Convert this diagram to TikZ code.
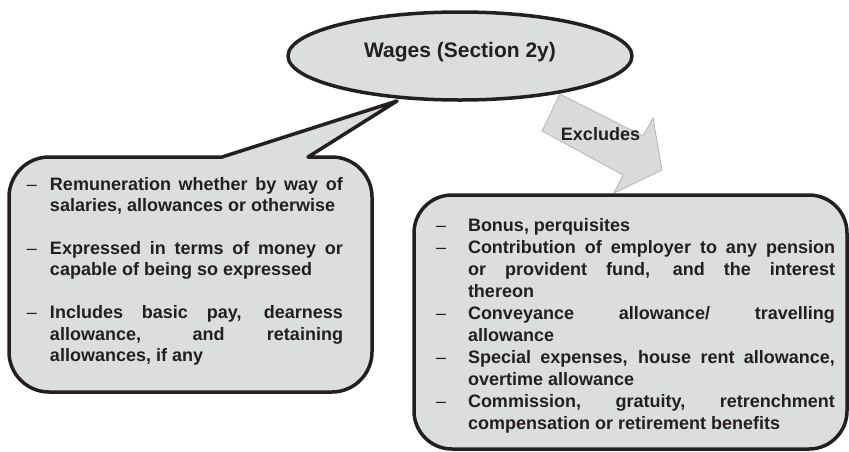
\documentclass[tikz,border=0pt]{standalone}
\usepackage{fontspec}
\setmainfont{Liberation Sans}
\usetikzlibrary{shapes.geometric}
\definecolor{boxfill}{HTML}{DCDDDF}
\definecolor{ink}{HTML}{231F20}
\definecolor{arrowfill}{HTML}{D9DADC}
\definecolor{arrowline}{HTML}{B4B5B7}
\tikzset{
  outline/.style={draw=ink, line width=3.5pt, fill=boxfill, line join=round},
  blockarrow/.style={draw=arrowline, line width=0.8pt, fill=arrowfill, line join=miter},
  bodytext/.style={inner sep=0pt, outer sep=0pt, text=ink, font=\bfseries, align=justify},
  titletext/.style={inner sep=0pt, text=ink, font={\bfseries\fontsize{21}{25}\selectfont}},
  labeltext/.style={inner sep=0pt, text=ink, font={\bfseries\fontsize{18}{22}\selectfont}}
}
\newcommand{\dashitem}[2]{\noindent\hangindent=#1\hangafter=1\makebox[#1][l]{\mdseries\char"2013}#2\par}
\hbadness=10000
\begin{document}
\begin{tikzpicture}[x=1pt,y=-1pt]
\useasboundingbox (0,0) rectangle (849,451);
% block arrow "Excludes"
\coordinate (t1) at (560,94);
\coordinate (s1) at (643,136);
\coordinate (h1) at (653,118);
\coordinate (tip) at (662,170);
\coordinate (h2) at (614,193);
\coordinate (s2) at (623,175);
\coordinate (t2) at (542,131);
\draw[blockarrow] (t1) -- (s1) -- (h1) -- (tip) -- (h2) -- (s2) -- (t2) -- cycle;
\node[labeltext, anchor=base] (exlabel) at (600.5,140) {Excludes};
% left callout
\coordinate (ptip) at (397,101);
\draw[outline] (222,157) -- (ptip) -- (308,157) -- (332,157)
  .. controls (354,157) and (372,175) .. (372,197) -- (372,352)
  .. controls (372,374) and (354,392) .. (332,392) -- (49,392)
  .. controls (27,392) and (9,374) .. (9,352) -- (9,197)
  .. controls (9,175) and (27,157) .. (49,157) -- cycle;
% ellipse
\node[ellipse, outline, minimum width=344pt, minimum height=88pt, inner sep=0pt] (wages) at (460,56) {};
\node[titletext, anchor=base] (title) at (460,57) {Wages (Section 2y)};
% right box
\node[outline, rounded corners=38pt, minimum width=433pt, minimum height=254pt, inner sep=0pt] (excl) at (630.5,322) {};
% left text
\node[bodytext, text width=316pt, anchor=base west] (inc) at (27,190) {\fontsize{18}{21.4}\selectfont%
\dashitem{23pt}{Remuneration whether by way of\linebreak salaries, allowances or otherwise}\vspace{21.6pt}%
\dashitem{23pt}{Expressed in terms of money or\linebreak capable of being so expressed}\vspace{21.6pt}%
\dashitem{23pt}{Includes basic pay, dearness\linebreak allowance, and retaining\linebreak allowances, if any}};
% right text
\node[bodytext, text width=399pt, anchor=base west] (exc) at (436,231.7) {\fontsize{18}{22}\selectfont%
\dashitem{32pt}{Bonus, perquisites}%
\dashitem{32pt}{Contribution of employer to any pension\linebreak or provident fund, and the interest\linebreak thereon}%
\dashitem{32pt}{Conveyance allowance/ travelling\linebreak allowance}%
\dashitem{32pt}{Special expenses, house rent allowance,\linebreak overtime allowance}%
\dashitem{32pt}{Commission, gratuity, retrenchment\linebreak compensation or retirement benefits}};
\end{tikzpicture}
\end{document}
